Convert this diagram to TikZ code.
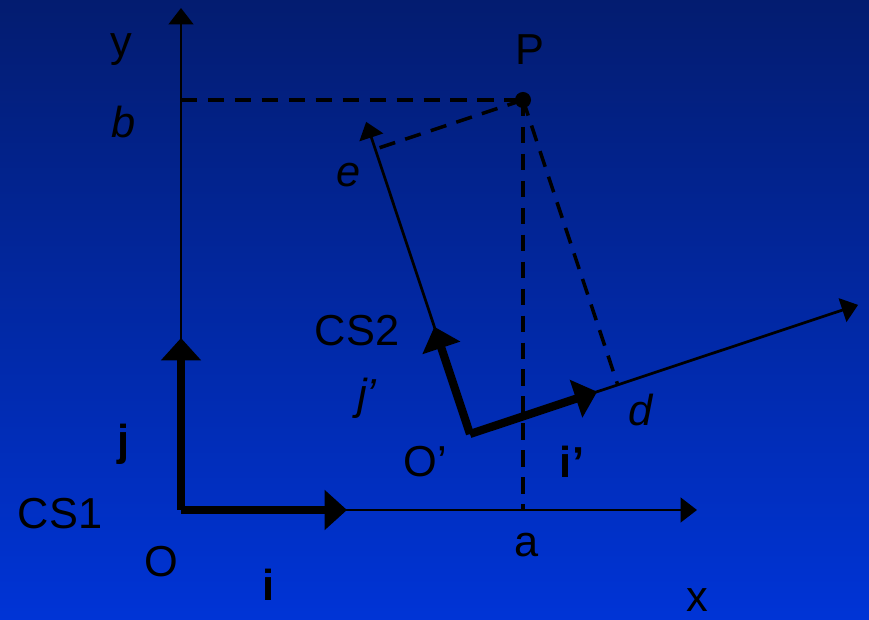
\documentclass[tikz,border=0pt]{standalone}
\usepackage{fontspec}
\setmainfont{Liberation Sans}
\usepackage{tikz}
\usetikzlibrary{arrows.meta}
\usetikzlibrary{calc}
\definecolor{bgtop}{RGB}{3,28,112}
\definecolor{bgbottom}{RGB}{0,52,214}

\begin{document}
\begin{tikzpicture}[x=0.3mm, y=0.3mm,
    every node/.style={font=\fontsize{37}{40}\selectfont, inner sep=0pt},
    axis/.style={line width=2.3pt, -{Triangle[length=14pt, width=21pt]}},
    unitvec/.style={line width=7pt, -{Triangle[length=19pt, width=33pt]}},
    proj/.style={line width=3pt, dash pattern=on 14pt off 9pt}]

\shade[top color=bgtop, bottom color=bgbottom] (0,0) rectangle (869,620);
\useasboundingbox (0,0) rectangle (869,620);

% CS1
\coordinate (O) at (181,110);
\coordinate (xend) at (697,110);
\coordinate (yend) at (181,612);
\coordinate (itip) at (347,110);
\coordinate (jtip) at (181,282);

% CS2, rotated by 18.4 degrees
\coordinate (O2) at (470,186);
\coordinate (dend) at ($(O2)+(18.4:409)$);
\coordinate (eend) at ($(O2)+(108.4:329)$);
\coordinate (i2tip) at ($(O2)+(18.4:134)$);
\coordinate (j2tip) at ($(O2)+(108.4:113)$);

% point
\coordinate (P) at (523,520);
\coordinate (Pb) at (O |- P);
\coordinate (Pa) at (P |- O);
\coordinate (Pe) at ($(O2)!(P)!(eend)$);
\coordinate (Pd) at ($(O2)!(P)!(dend)$);

\draw[axis] (O) -- (xend);
\draw[axis] (O) -- (yend);
\draw[axis] (O2) -- (dend);
\draw[axis] (O2) -- (eend);

\draw[proj] (Pb) -- (P);
\draw[proj] (P) -- (Pa);
\draw[proj] (P) -- (Pe);
\draw[proj] (P) -- (Pd);

\draw[unitvec] (O) -- (itip);
\draw[unitvec] (O) -- (jtip);
\draw[unitvec] (O2) -- (i2tip);
\draw[unitvec] (O2) -- (j2tip);

\fill (P) circle (8);

% labels
\node (ylab) at (121,570) {y};
\node (Plab) at (530,570) {P};
\node (blab) at (124,498) {\itshape b};
\node (elab) at (349,445) {\itshape e};
\node (cs2) at (357,289) {CS2};
\node (j2lab) at (367,222) {\itshape j'};
\node (dlab) at (641,210) {\itshape d};
\node (jlab) at (124,176) {\bfseries j};
\node (O2lab) at (425,158) {O'};
\node (i2lab) at (572,158) {\bfseries i'};
\node (cs1) at (60,106) {CS1};
\node (Olab) at (161,58) {O};
\node (alab) at (527,75) {a};
\node (ilab) at (269,35) {\bfseries i};
\node (xlab) at (697,20) {x};
\end{tikzpicture}
\end{document}
